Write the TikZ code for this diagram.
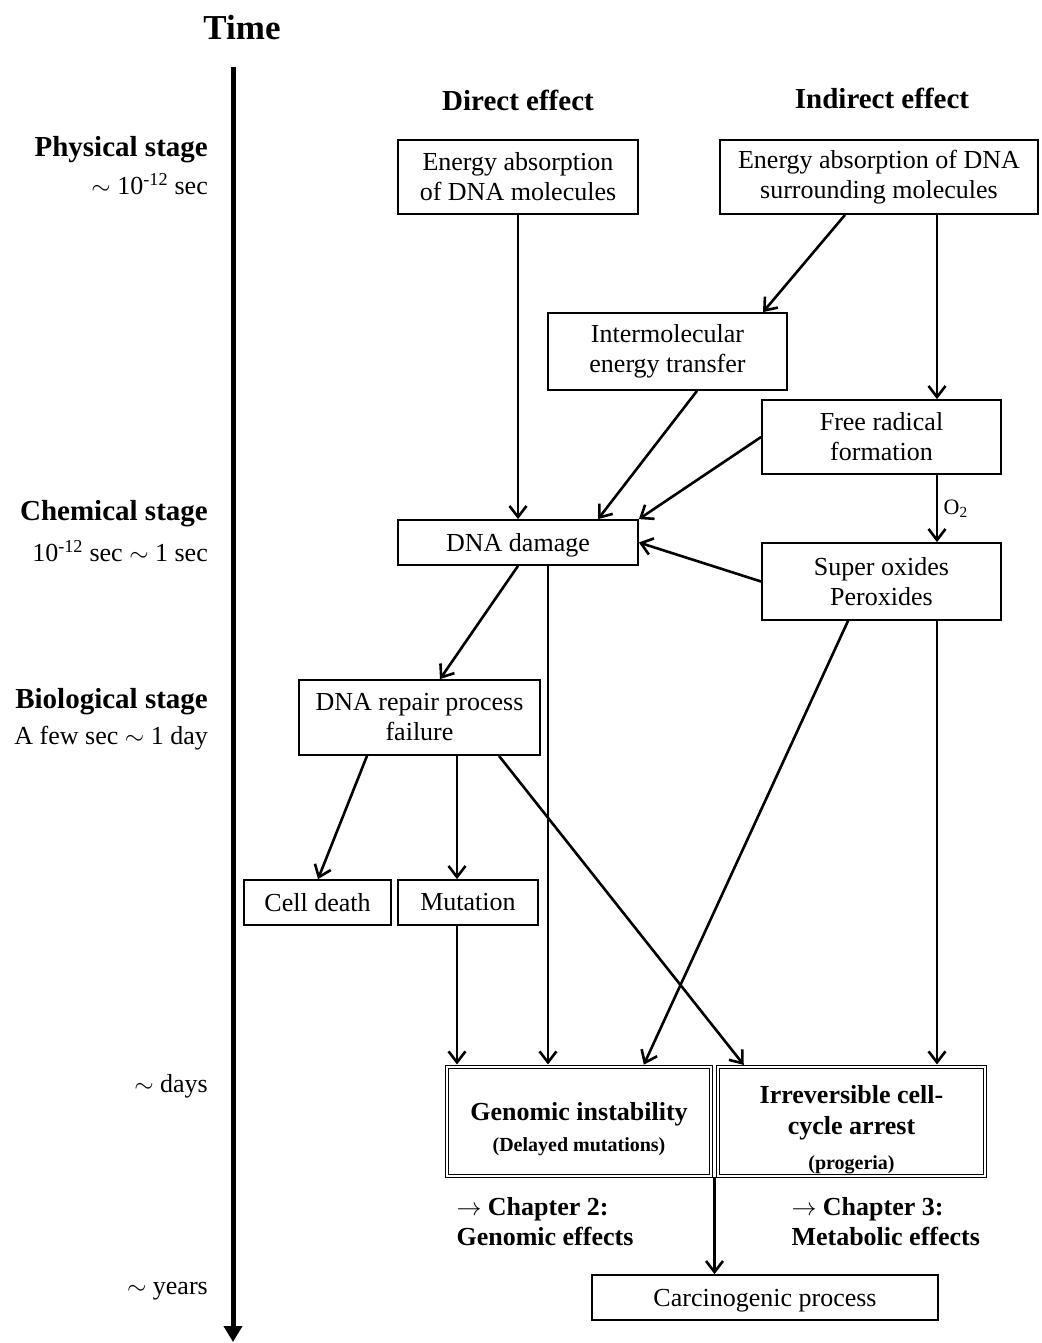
\documentclass[tikz,border=0pt]{standalone}
\usepackage{fontspec}
\setmainfont{Liberation Serif}
\usetikzlibrary{arrows.meta}

\begin{document}
\begin{tikzpicture}[x=1pt,y=-1pt,
	box/.style={draw,line width=1.8pt,align=center,inner sep=0pt,font=\fontsize{26}{30}\selectfont},
	dbox/.style={draw,double,double distance=1.6pt,line width=1.1pt,align=center,inner sep=0pt,font=\bfseries\fontsize{26}{30}\selectfont},
	arr/.style={-{Straight Barb[length=11pt,width=17pt]},line width=2.6pt},
	stage/.style={anchor=east,inner sep=0pt,font=\bfseries\fontsize{29}{33}\selectfont},
	when/.style={anchor=east,inner sep=0pt,font=\fontsize{26}{30}\selectfont},
	head/.style={font=\bfseries\fontsize{29}{33}\selectfont},
	chap/.style={anchor=west,align=left,font=\bfseries\fontsize{26}{30}\selectfont}]
			\useasboundingbox (0,0) rectangle (1041,1343);
			
			% time axis
			\node[font=\bfseries\fontsize{35}{40}\selectfont] (time) at (242,28) {Time};
			\coordinate (ttop) at (233,67);
			\coordinate (tbot) at (233,1342);
			\draw[line width=5pt,-{Triangle[length=16pt,width=18pt]}] (ttop) -- (tbot);
			
			\node[stage] (phys) at (208,150) {Physical stage};
			\node[when] (physT) at (208,184) {$\sim$ 10\textsuperscript{-12} sec};
			\node[stage] (chem) at (208,514) {Chemical stage};
			\node[when] (chemT) at (208,551) {10\textsuperscript{-12} sec $\sim$ 1 sec};
			\node[stage] (bio) at (208,702) {Biological stage};
			\node[when] (bioT) at (208,738) {A few sec $\sim$ 1 day};
			\node[when] (days) at (208,1086) {$\sim$ days};
			\node[when] (years) at (208,1291) {$\sim$ years};
			
			\node[head] (direct) at (518,100) {Direct effect};
			\node[head] (indirect) at (882,98) {Indirect effect};
			
			% boxes
			\node[box,minimum width=240pt,minimum height=74pt] (eDNA) at (518,177) {Energy absorption\\of DNA molecules};
			\node[box,minimum width=318pt,minimum height=74pt] (eSur) at (879,177) {Energy absorption of DNA\\surrounding molecules};
			\node[box,minimum width=239pt,minimum height=77pt] (iet) at (667.5,351.5) {Intermolecular\\energy transfer};
			\node[box,minimum width=239pt,minimum height=74pt] (frf) at (881.5,437) {Free radical\\formation};
			\node[box,minimum width=240pt,minimum height=45pt] (dd) at (518,542.5) {\rule{0pt}{24pt}DNA damage};
			\node[box,minimum width=239pt,minimum height=77pt] (so) at (881.5,581.5) {Super oxides\\Peroxides};
			\node[box,minimum width=241pt,minimum height=75pt] (drp) at (419.5,717.5) {DNA repair process\\failure};
			\node[box,minimum width=147pt,minimum height=45pt] (cd) at (317.5,902.5) {Cell death};
			\node[box,minimum width=140pt,minimum height=45pt] (mut) at (468,902.5) {Mutation};
			\node[dbox,minimum width=264pt,minimum height=109pt] (gi) at (579,1121.5)
				{\rule{0pt}{34pt}Genomic instability\\[1pt]{\fontsize{20}{24}\selectfont (Delayed mutations)}};
			\node[dbox,minimum width=267pt,minimum height=109pt] (ica) at (851.5,1121.5)
				{\rule{0pt}{34pt}Irreversible cell-\\[1pt]cycle arrest\\[5pt]{\fontsize{20}{24}\selectfont (progeria)}};
			\node[box,minimum width=346pt,minimum height=45pt] (cp) at (765,1297.5) {\rule{0pt}{24pt}Carcinogenic process};
			
			\node[chap] (ch2) at (453,1222) {$\rightarrow$ Chapter 2:\\Genomic effects};
			\node[chap] (ch3) at (788,1222) {$\rightarrow$ Chapter 3:\\Metabolic effects};
			
			% arrows
			\draw[arr] (eDNA) -- (dd);
			\draw[arr] (845,0 |- eSur.south) -- (763,0 |- iet.north);
			\draw[arr] (937,0 |- eSur.south) -- (937,0 |- frf.north);
			\draw[arr] (697,0 |- iet.south) -- (598,0 |- dd.north);
			\draw[arr] (frf.west) -- (dd.north east);
			\draw[arr] (937,0 |- frf.south) -- (937,0 |- so.north)
				node[midway,right,xshift=2pt,font=\fontsize{22}{26}\selectfont] (o2) {O\textsubscript{2}};
			\draw[arr] (so.west) -- (dd.east);
			\draw[arr] (518,0 |- dd.south) -- (440,0 |- drp.north);
			\draw[arr,shorten >=2pt] (548,0 |- dd.south) -- (548,0 |- gi.north);
			\draw[arr,shorten >=2pt] (848,0 |- so.south) -- (643,0 |- gi.north);
			\draw[arr,shorten >=2pt] (937,0 |- so.south) -- (937,0 |- ica.north);
			\draw[arr] (367,0 |- drp.south) -- (318,0 |- cd.north);
			\draw[arr] (457,0 |- drp.south) -- (457,0 |- mut.north);
			\draw[arr,shorten >=2pt] (499,0 |- drp.south) -- (745,0 |- ica.north);
			\draw[arr,shorten >=2pt] (457,0 |- mut.south) -- (457,0 |- gi.north);
			\draw[arr] (714.5,0 |- gi.south) -- (714.5,0 |- cp.north);
		\end{tikzpicture}
\end{document}
